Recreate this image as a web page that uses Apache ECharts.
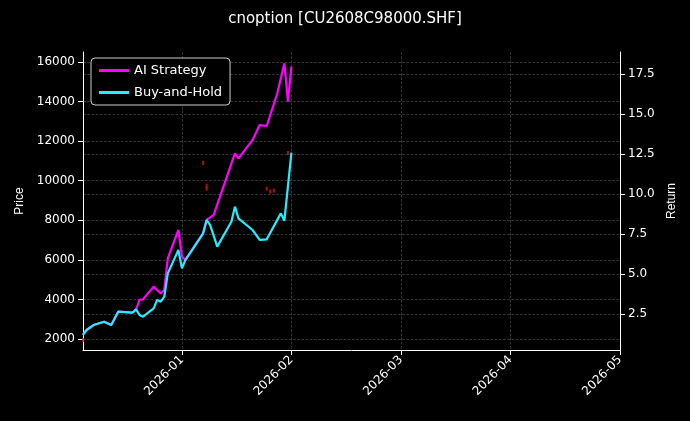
<!DOCTYPE html>
<html><head><meta charset="utf-8">
<script src="https://cdn.jsdelivr.net/npm/echarts@6/dist/echarts.min.js"></script>
<style>html,body{margin:0;background:#000}#c{width:690px;height:421px}</style></head>
<body><div id="c"></div>
<script>
// day offset from 2025-12-04
const aiDays = [0,1,3,6,8,10,14,15,16,17,20,21,22,23,24,27,28,29,34,35,37,43,44,48,50,52,55,57,58,59];
const aiVals = [1.19,1.5,1.81,2.02,1.81,2.65,2.58,2.75,3.38,3.42,4.21,4.0,3.79,4.0,5.98,7.75,6.08,5.88,7.54,8.38,8.69,12.54,12.23,13.38,14.31,14.25,16.29,18.17,15.77,17.96];
const bhDays = [0,1,3,6,8,10,14,15,16,17,20,21,22,23,24,27,28,29,34,35,36,38,42,43,44,48,50,52,56,57,59];
const bhVals = [1.19,1.5,1.81,2.02,1.81,2.65,2.58,2.79,2.44,2.33,2.85,3.38,3.27,3.58,5.04,6.5,5.35,5.88,7.54,8.38,8.06,6.71,8.27,9.21,8.48,7.75,7.13,7.17,8.79,8.33,12.58];
const priceDays = [0,35,35,34,52,53,54,58];
const priceVals = [1950,9600,9750,10900,9600,9450,9500,11400];
const monthTicks = [28,59,90,121,152];
const monthLabels = ['2026-01','2026-02','2026-03','2026-04','2026-05'];
const priceTicks = [2000,4000,6000,8000,10000,12000,14000,16000];
const returnTicks = [2.5,5,7.5,10,12.5,15,17.5];
const zip=(a,b)=>a.map((d,i)=>[d,b[i]]);
const grid={color:'#4a4a4a',type:'dashed',width:0.7};
const chart=echarts.init(document.getElementById('c'));
chart.setOption({
  backgroundColor:'#000',
  animation:false,
  title:{text:'cnoption [CU2608C98000.SHF]',left:'center',top:7,textStyle:{color:'#fff',fontSize:15,fontWeight:'normal',fontFamily:'DejaVu Sans'}},
  legend:{left:91,top:58,orient:'vertical',itemWidth:30,itemHeight:3,itemGap:9,padding:[6,8],
    backgroundColor:'#000',borderColor:'#ccc',borderWidth:1,borderRadius:4,
    textStyle:{color:'#fff',fontSize:13,fontFamily:'DejaVu Sans'},
    data:[{name:'AI Strategy',icon:'rect'},{name:'Buy-and-Hold',icon:'rect'}]},
  grid:{left:83,right:70,top:52,bottom:71},
  xAxis:{type:'value',min:0,max:152,
    axisLine:{lineStyle:{color:'#fff'}},
    axisTick:{show:true,customValues:monthTicks,lineStyle:{color:'#fff'}},
    axisLabel:{customValues:monthTicks,rotate:45,color:'#fff',fontSize:12,fontFamily:'DejaVu Sans',
      formatter:v=>monthLabels[monthTicks.indexOf(v)]||''},
    splitLine:{show:true,lineStyle:grid}},
  yAxis:[
    {type:'value',name:'Price',nameLocation:'middle',nameGap:55,nameTextStyle:{color:'#fff',fontSize:12},
     min:1445,max:16505,
     axisLine:{show:true,lineStyle:{color:'#fff'}},axisTick:{show:true,customValues:priceTicks},
     axisLabel:{color:'#fff',fontSize:12,fontFamily:'DejaVu Sans',customValues:priceTicks,formatter:v=>String(v)},
     splitLine:{show:true,lineStyle:grid}},
    {type:'value',name:'Return',nameLocation:'middle',nameGap:45,nameTextStyle:{color:'#fff',fontSize:12},
     min:0.25,max:18.875,
     axisLine:{show:true,lineStyle:{color:'#fff'}},axisTick:{show:true,customValues:returnTicks},
     axisLabel:{color:'#fff',fontSize:12,fontFamily:'DejaVu Sans',customValues:returnTicks,formatter:v=>v.toFixed(1)},
     splitLine:{show:true,lineStyle:grid}}
  ],
  series:[
    {type:'scatter',yAxisIndex:0,data:zip(priceDays,priceVals),symbol:'rect',symbolSize:[2,4],itemStyle:{color:'#e01010'},silent:true},
    {name:'AI Strategy',type:'line',yAxisIndex:1,data:zip(aiDays,aiVals),showSymbol:false,lineStyle:{color:'#ff00ff',width:2.2},itemStyle:{color:'#ff00ff'}},
    {name:'Buy-and-Hold',type:'line',yAxisIndex:1,data:zip(bhDays,bhVals),showSymbol:false,lineStyle:{color:'#22eeff',width:2.2},itemStyle:{color:'#22eeff'}}
  ]
});
</script></body></html>
